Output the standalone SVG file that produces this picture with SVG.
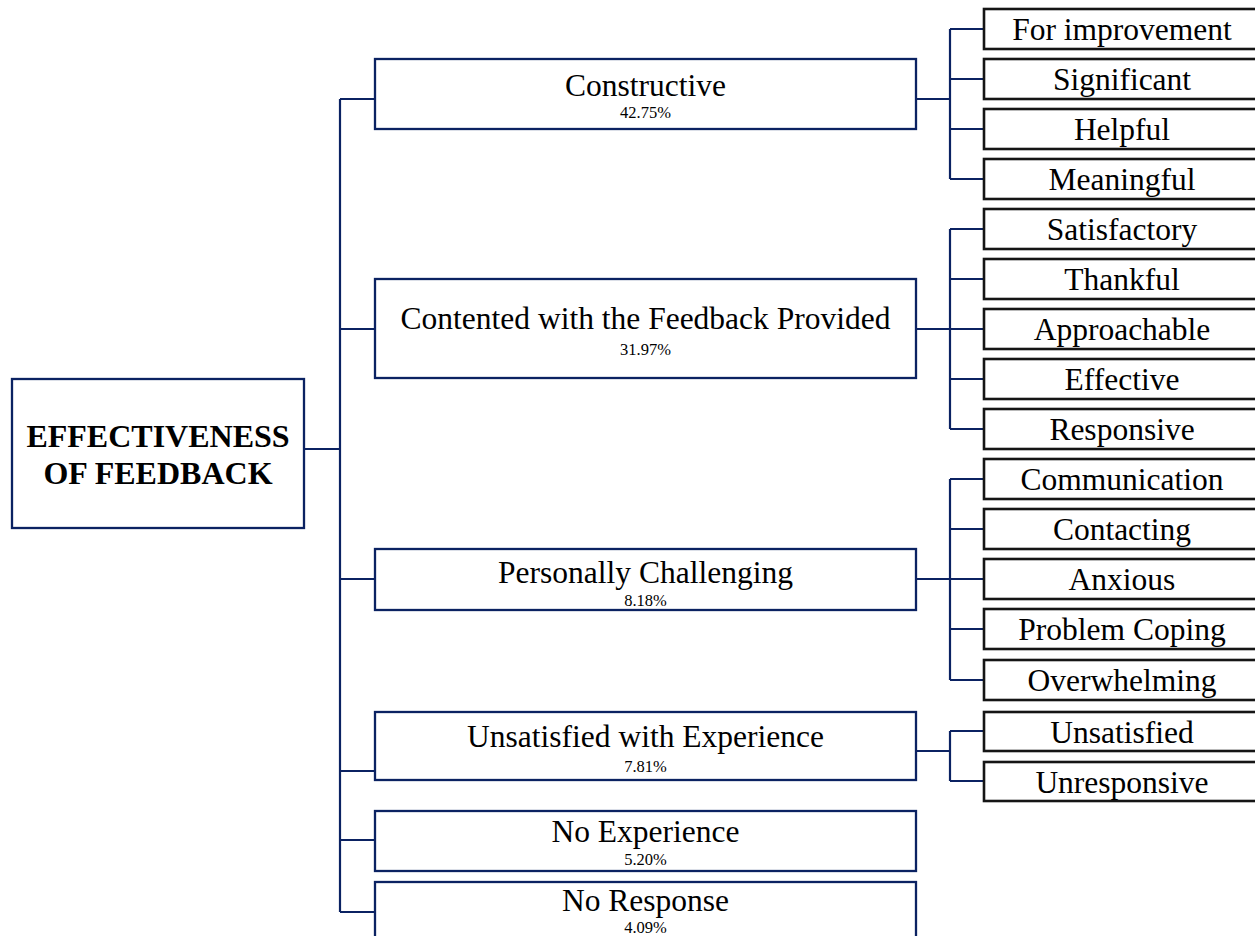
<svg xmlns="http://www.w3.org/2000/svg" width="1255" height="936" viewBox="0 0 1255 936">
  <style>
    .box { fill: #ffffff; stroke: #0b2262; stroke-width: 2.3; }
    .leaf { fill: #ffffff; stroke: #151515; stroke-width: 2.6; }
    .link { fill: none; stroke: #0b2262; stroke-width: 2.2; }
    .root-label { font-family: "Liberation Serif", "Times New Roman", serif; font-weight: bold; font-size: 32px; fill: #000; text-anchor: middle; }
    .label { font-family: "Liberation Serif", "Times New Roman", serif; font-size: 31.5px; fill: #000; text-anchor: middle; }
    .pct { font-family: "Liberation Serif", "Times New Roman", serif; font-size: 16.5px; fill: #000; text-anchor: middle; }
  </style>
  <rect width="1255" height="936" fill="#ffffff"/>

  <!-- connectors -->
  <g id="connectors">
    <!-- root to main trunk -->
    <path class="link" d="M304 449 H340"/>
    <path class="link" d="M340 99 V912"/>
    <path class="link" d="M340 99 H375 M340 329 H375 M340 579 H375 M340 771 H375 M340 840 H375 M340 912 H375"/>
    <!-- Constructive branch -->
    <path class="link" d="M916 99 H950 M950 29 V179 M950 29 H984 M950 79 H984 M950 129 H984 M950 179 H984"/>
    <!-- Contented branch -->
    <path class="link" d="M916 329 H950 M950 229 V429 M950 229 H984 M950 279 H984 M950 329 H984 M950 379 H984 M950 429 H984"/>
    <!-- Personally Challenging branch -->
    <path class="link" d="M916 579 H950 M950 479 V680 M950 479 H984 M950 529 H984 M950 579 H984 M950 629 H984 M950 680 H984"/>
    <!-- Unsatisfied branch -->
    <path class="link" d="M916 751 H950 M950 731 V781 M950 731 H984 M950 781 H984"/>
  </g>

  <!-- root -->
  <g id="root">
    <rect class="box" x="12" y="379" width="292" height="149"/>
    <text class="root-label" x="158" y="447">EFFECTIVENESS</text>
    <text class="root-label" x="158" y="484">OF FEEDBACK</text>
  </g>

  <!-- first level -->
  <g id="constructive">
    <rect class="box" x="375" y="59" width="541" height="70"/>
    <text class="label" x="645.5" y="96">Constructive</text>
    <text class="pct" x="645.5" y="118">42.75%</text>
  </g>
  <g id="contented">
    <rect class="box" x="375" y="279" width="541" height="99"/>
    <text class="label" x="645.5" y="329">Contented with the Feedback Provided</text>
    <text class="pct" x="645.5" y="355">31.97%</text>
  </g>
  <g id="challenging">
    <rect class="box" x="375" y="549" width="541" height="61"/>
    <text class="label" x="645.5" y="583">Personally Challenging</text>
    <text class="pct" x="645.5" y="606">8.18%</text>
  </g>
  <g id="unsatisfied-exp">
    <rect class="box" x="375" y="712" width="541" height="68"/>
    <text class="label" x="645.5" y="747">Unsatisfied with Experience</text>
    <text class="pct" x="645.5" y="772">7.81%</text>
  </g>
  <g id="no-experience">
    <rect class="box" x="375" y="811" width="541" height="60"/>
    <text class="label" x="645.5" y="842">No Experience</text>
    <text class="pct" x="645.5" y="865">5.20%</text>
  </g>
  <g id="no-response">
    <rect class="box" x="375" y="882" width="541" height="70"/>
    <text class="label" x="645.5" y="911">No Response</text>
    <text class="pct" x="645.5" y="933">4.09%</text>
  </g>

  <!-- second level -->
  <g id="for-improvement"><rect class="leaf" x="984" y="9" width="280" height="40"/><text class="label" x="1122" y="40">For improvement</text></g>
  <g id="significant"><rect class="leaf" x="984" y="59" width="280" height="40"/><text class="label" x="1122" y="90">Significant</text></g>
  <g id="helpful"><rect class="leaf" x="984" y="109" width="280" height="40"/><text class="label" x="1122" y="140">Helpful</text></g>
  <g id="meaningful"><rect class="leaf" x="984" y="159" width="280" height="40"/><text class="label" x="1122" y="190">Meaningful</text></g>

  <g id="satisfactory"><rect class="leaf" x="984" y="209" width="280" height="40"/><text class="label" x="1122" y="240">Satisfactory</text></g>
  <g id="thankful"><rect class="leaf" x="984" y="259" width="280" height="40"/><text class="label" x="1122" y="290">Thankful</text></g>
  <g id="approachable"><rect class="leaf" x="984" y="309" width="280" height="40"/><text class="label" x="1122" y="340">Approachable</text></g>
  <g id="effective"><rect class="leaf" x="984" y="359" width="280" height="40"/><text class="label" x="1122" y="390">Effective</text></g>
  <g id="responsive"><rect class="leaf" x="984" y="409" width="280" height="40"/><text class="label" x="1122" y="440">Responsive</text></g>

  <g id="communication"><rect class="leaf" x="984" y="459" width="280" height="40"/><text class="label" x="1122" y="490">Communication</text></g>
  <g id="contacting"><rect class="leaf" x="984" y="509" width="280" height="40"/><text class="label" x="1122" y="540">Contacting</text></g>
  <g id="anxious"><rect class="leaf" x="984" y="559" width="280" height="40"/><text class="label" x="1122" y="590">Anxious</text></g>
  <g id="problem-coping"><rect class="leaf" x="984" y="609" width="280" height="40"/><text class="label" x="1122" y="640">Problem Coping</text></g>
  <g id="overwhelming"><rect class="leaf" x="984" y="660" width="280" height="40"/><text class="label" x="1122" y="691">Overwhelming</text></g>

  <g id="unsatisfied"><rect class="leaf" x="984" y="712" width="280" height="39"/><text class="label" x="1122" y="743">Unsatisfied</text></g>
  <g id="unresponsive"><rect class="leaf" x="984" y="762" width="280" height="39"/><text class="label" x="1122" y="793">Unresponsive</text></g>
</svg>
